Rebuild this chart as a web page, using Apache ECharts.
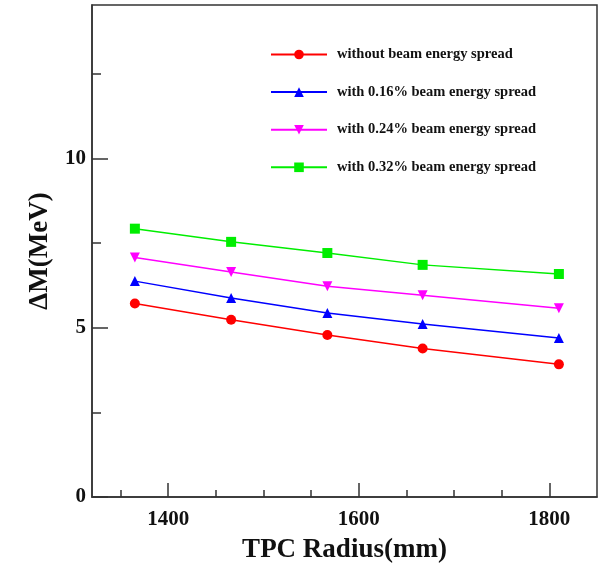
<!DOCTYPE html>
<html><head><meta charset="utf-8">
<script src="https://cdn.jsdelivr.net/npm/echarts@6/dist/echarts.min.js"></script>
<style>html,body{margin:0;padding:0;background:#fff}#c{width:606px;height:563px}</style>
</head><body><div id="c"></div>
<script>
var radius = [1365, 1466, 1567, 1667, 1810];
var noSpread = [5.72, 5.24, 4.79, 4.39, 3.92];
var spread016 = [6.38, 5.88, 5.44, 5.11, 4.70];
var spread024 = [7.08, 6.65, 6.23, 5.96, 5.58];
var spread032 = [7.93, 7.54, 7.21, 6.86, 6.59];
var names = ['without beam energy spread','with 0.16% beam energy spread','with 0.24% beam energy spread','with 0.32% beam energy spread'];
var colors = ['#ff0000','#0000ff','#ff00ff','#00ee00'];
var symbols = ['circle','triangle','path://M0,0 L10,0 L5,9 Z','rect'];
var xMajor = [1400, 1600, 1800];
var xMinor = [1350, 1450, 1500, 1550, 1650, 1700, 1750];
var yMajor = [0, 5, 10];
var yMinor = [2.5, 7.5, 12.5];
var sets = [noSpread, spread016, spread024, spread032];

var font = 'Liberation Serif';
var axisCol = '#333';
function pairs(ys){return radius.map(function(x,i){return [x, ys[i]];});}
var series = sets.map(function(ys,i){
  return {name:names[i], type:'line', xAxisIndex:0, yAxisIndex:0, data:pairs(ys),
    symbol:symbols[i], symbolSize:10,
    lineStyle:{color:colors[i], width:1.5}, itemStyle:{color:colors[i]}};
});
var chart = echarts.init(document.getElementById('c'), null, {renderer:'canvas'});
chart.setOption({
  animation:false,
  grid:{left:92, right:9, top:5, bottom:66, show:true, borderColor:axisCol, borderWidth:1.5, containLabel:false, outerBoundsMode:'none'},
  legend:{orient:'vertical', left:265, top:42, itemWidth:56, itemHeight:12, itemGap:22.6, itemTextGap:14,
    textStyle:{fontFamily:font, fontWeight:'bold', fontSize:14.5, color:'#111', padding:[0,0,0,5]}, data:names},
  xAxis:[
    {type:'value', min:1320, max:1850, position:'bottom',
     name:'TPC Radius(mm)', nameLocation:'middle', nameGap:40,
     nameTextStyle:{fontFamily:font, fontWeight:'bold', fontSize:27, color:'#111'},
     axisLine:{show:true, lineStyle:{color:axisCol, width:1.5}},
     axisTick:{show:true, inside:true, length:14, customValues:xMajor, lineStyle:{color:axisCol, width:1.5}},
     axisLabel:{customValues:xMajor, margin:12, formatter:function(v){return String(v);}, fontFamily:font, fontWeight:'bold', fontSize:21, color:'#111'},
     splitLine:{show:false}},
    {type:'value', min:1320, max:1850, position:'bottom',
     axisLine:{show:false},
     axisTick:{show:true, inside:true, length:7, customValues:xMinor, lineStyle:{color:axisCol, width:1.5}},
     axisLabel:{show:false}, splitLine:{show:false}}
  ],
  yAxis:[
    {type:'value', min:0, max:14.54, position:'left',
     name:'\u0394M(MeV)', nameLocation:'middle', nameGap:38,
     nameTextStyle:{fontFamily:font, fontWeight:'bold', fontSize:27, color:'#111'},
     axisLine:{show:true, lineStyle:{color:axisCol, width:1.5}},
     axisTick:{show:true, inside:true, length:16, customValues:yMajor, lineStyle:{color:axisCol, width:1.5}},
     axisLabel:{customValues:yMajor, margin:6, formatter:function(v){return String(v);}, fontFamily:font, fontWeight:'bold', fontSize:21, color:'#111'},
     splitLine:{show:false}},
    {type:'value', min:0, max:14.54, position:'left',
     axisLine:{show:false},
     axisTick:{show:true, inside:true, length:9, customValues:yMinor, lineStyle:{color:axisCol, width:1.5}},
     axisLabel:{show:false}, splitLine:{show:false}}
  ],
  series:series
});
</script></body></html>
